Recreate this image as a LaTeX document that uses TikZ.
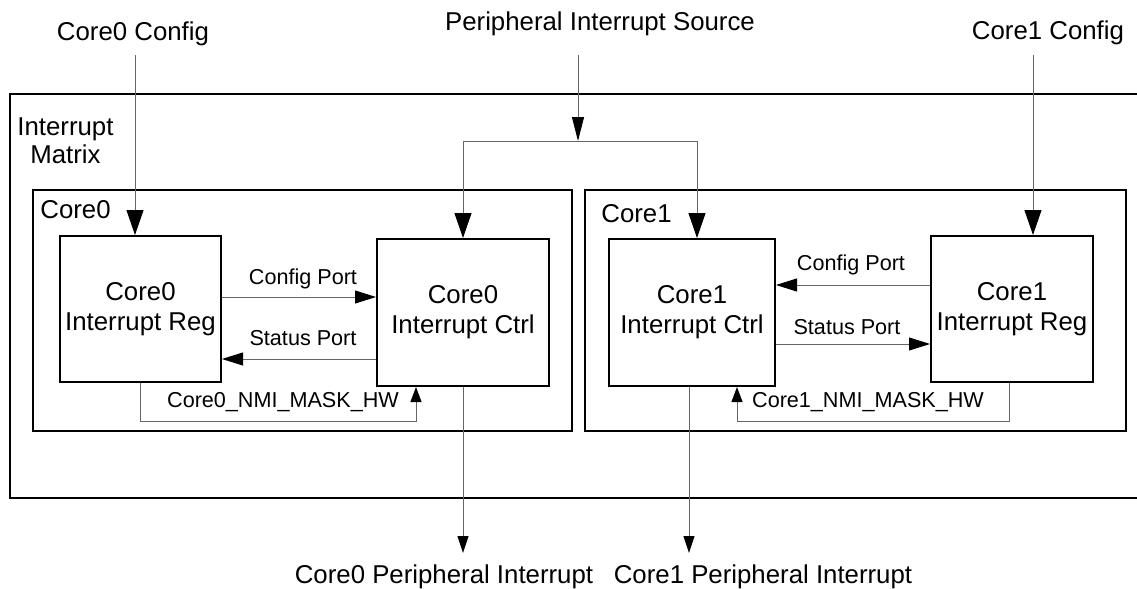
\documentclass[tikz,border=0pt]{standalone}
\usepackage{fontspec}
\setmainfont{Liberation Sans}
\usetikzlibrary{arrows.meta, positioning, calc}

\begin{document}
\begin{tikzpicture}[
    x=0.5pt, y=-0.5pt,
    % --- STYLES ---
    container/.style={draw, line width=1pt, inner sep=0pt},
    block/.style={draw, line width=1pt, align=center, inner sep=0pt, font=\fontsize{12.9}{15}\selectfont},
    big_text/.style={inner sep=0pt, font=\fontsize{12.9}{14}\selectfont},
    small_text/.style={inner sep=0pt, font=\fontsize{10.8}{13}\selectfont},
    % Wire Styles
    wire/.style={draw=black!60, line width=0.5pt},
    cfg_arrow/.style={wire, -{Triangle[length=12.5pt, width=8.5pt, color=black]}},
    src_arrow/.style={wire, -{Triangle[length=12pt, width=6pt, color=black]}},
    port_arrow/.style={wire, -{Triangle[length=10.5pt, width=6.5pt, color=black]}},
    nmi_arrow/.style={wire, -{Triangle[length=7.5pt, width=5.5pt, color=black]}},
    out_arrow/.style={wire, -{Triangle[length=8.5pt, width=5.5pt, color=black]}}
]
\path[use as bounding box] (0,0) rectangle (1137,589);
\clip (0,0) rectangle (1137,589);

% --- 1. CONTAINERS ---
\node[container, minimum width=570pt, minimum height=202pt] (IM) at (580,296) {};
\node[big_text, anchor=north west, align=center] (IMlbl) at (17,117) {Interrupt\\Matrix};

\node[container, minimum width=269.5pt, minimum height=120.5pt] (K0) at (302.5,310.5) {};
\node[big_text, anchor=west] (K0lbl) at (40,210) {Core0};

\node[container, minimum width=270.5pt, minimum height=120.5pt] (K1) at (855.5,310.5) {};
\node[big_text, anchor=west] (K1lbl) at (601,214) {Core1};

% --- 2. BLOCKS ---
\node[block, minimum width=80.5pt, minimum height=73pt] (R0) at (140.5,309) {Core0\\Interrupt Reg};
\node[block, minimum width=86pt, minimum height=73.5pt] (C0) at (463,312.5) {Core0\\Interrupt Ctrl};
\node[block, minimum width=83pt, minimum height=73.5pt] (C1) at (692,312.5) {Core1\\Interrupt Ctrl};
\node[block, minimum width=81pt, minimum height=73pt] (R1) at (1012,309) {Core1\\Interrupt Reg};

% --- 3. OUTSIDE LABELS ---
\node[big_text] (CFG0) at (133,34) {Core0 Config};
\node[big_text] (SRC) at (600,24) {Peripheral Interrupt Source};
\node[big_text] (CFG1) at (1048,33) {Core1 Config};
\node[big_text] (OUT0) at (444,577) {Core0 Peripheral Interrupt};
\node[big_text] (OUT1) at (763,577) {Core1 Peripheral Interrupt};

% --- 4. INPUTS ---
\coordinate (c0in) at (135,55);
\coordinate (c1in) at (1033,55);
\coordinate (srcin) at (578,55);
\coordinate (split) at (578,141);
\draw[cfg_arrow] (c0in) -- (c0in |- R0.north);
\draw[cfg_arrow] (c1in) -- (c1in |- R1.north);
\draw[src_arrow] (srcin) -- (split);
\draw[cfg_arrow] (split) -| (C0.north);
\draw[cfg_arrow] (split) -| ([xshift=2.5pt]C1.north);

% --- 5. PORTS ---
\draw[port_arrow] ([yshift=6pt]R0.east) -- ([yshift=6pt]R0.east -| C0.west);
\draw[port_arrow] ([yshift=-25pt]R0.east -| C0.west) -- ([yshift=-25pt]R0.east);
\draw[port_arrow] ([yshift=12pt]R1.west) -- ([yshift=12pt]R1.west -| C1.east);
\draw[port_arrow] ([yshift=-17.5pt]R1.west -| C1.east) -- ([yshift=-17.5pt]R1.west);
\node[small_text] at (303,279) {Config Port};
\node[small_text] at (303,338) {Status Port};
\node[small_text] at (851,265) {Config Port};
\node[small_text] at (847,327) {Status Port};

% --- 6. NMI MASK ---
\coordinate (n0) at (416,421);
\coordinate (n1) at (737,421);
\draw[nmi_arrow] (R0.south) |- (n0) -- (n0 |- C0.south);
\draw[nmi_arrow] ([xshift=-1.5pt]R1.south) |- (n1) -- (n1 |- C1.south);
\node[small_text] at (283,402) {Core0\_NMI\_MASK\_HW};
\node[small_text] at (868,402) {Core1\_NMI\_MASK\_HW};

% --- 7. OUTPUTS ---
\coordinate (o0) at (463,553);
\coordinate (o1) at (689,553);
\draw[out_arrow] (C0.south) -- (o0);
\draw[out_arrow] ([xshift=-1.5pt]C1.south) -- (o1);

\end{tikzpicture}
\end{document}
